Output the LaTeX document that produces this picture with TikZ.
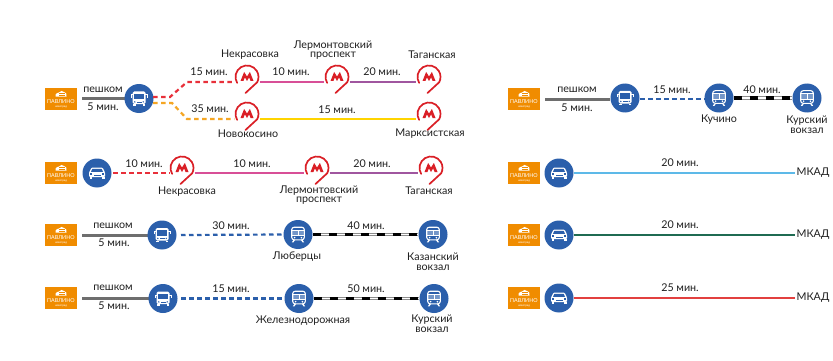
\documentclass[tikz,border=0pt]{standalone}
\usepackage{fontspec}
\setmainfont{Lato}
\definecolor{hubblue}{HTML}{2B5FAB}
\definecolor{logoor}{HTML}{F08C00}
\definecolor{mred}{HTML}{DA1F26}
\definecolor{dashred}{HTML}{E8303A}
\definecolor{dashor}{HTML}{F5A623}
\definecolor{pinkl}{HTML}{D84F97}
\definecolor{purpl}{HTML}{A0569F}
\definecolor{yell}{HTML}{FFD400}
\definecolor{greyl}{HTML}{6E6E6E}
\definecolor{skyl}{HTML}{5DB9E8}
\definecolor{greenl}{HTML}{1F6B52}
\definecolor{redl}{HTML}{E2403F}
\tikzset{
  x=1pt,y=-1pt,
  txt/.style={inner sep=0pt,font=\fontsize{10.7}{9.6}\selectfont,align=center,text=black!88},
  hub/.style={circle,fill=hubblue,minimum size=29pt,inner sep=0pt},
  logobox/.style={rectangle,fill=logoor,minimum width=32pt,minimum height=22pt,inner sep=0pt},
  logotxt/.style={inner sep=0pt,text=white,font=\fontsize{5.4}{5}\selectfont},
  logosub/.style={inner sep=0pt,text=white,font=\fontsize{2.8}{3}\selectfont},
  pinbox/.style={rectangle,minimum width=25pt,minimum height=1pt,inner sep=0pt},
  walk/.style={draw=greyl,line width=3pt},
  dashr/.style={draw=dashred,line width=2.2pt,dash pattern=on 4.5pt off 3.5pt},
  dasho/.style={draw=dashor,line width=2.2pt,dash pattern=on 4.5pt off 3.5pt},
  dashb/.style={draw=hubblue,line width=2.2pt,dash pattern=on 4.5pt off 3.5pt},
  solidl/.style={line width=2.9pt},
  ic/.style={fill=white,draw=none},
  ih/.style={fill=hubblue,draw=none}
}
\newcommand{\logoat}[3]{%
  \node[logobox] (#1) at (#2,#3) {};
  \node[logotxt] (#1t) at ([yshift=-3pt]#1.center) {ПАВЛИНО};
  \node[logosub] (#1s) at ([yshift=-7.6pt]#1.center) {новоград};
  \begin{scope}[shift={(#1.center)}]
    \fill[white] (-5.5,-2.5) -- (-5.5,-4.5) .. controls (-5,-6) and (-3,-6) .. (-2,-6.5) .. controls (-1,-8.5) and (2,-8.5) .. (3,-7) .. controls (5,-7) and (6,-5) .. (5.5,-2.5) -- cycle;
    \draw[logoor,line width=.4pt] (-2,-5.5) -- (4,-5.5) (-2,-4) -- (4,-4);
  \end{scope}}
\newcommand{\carat}[3]{%
  \node[hub] (#1) at (#2,#3) {};
  \begin{scope}[shift={(#1.center)}]
    \fill[ic,rounded corners=1pt] (-8,4) -- (-8,-.5) -- (-5.5,-5.5) -- (5.5,-5.5) -- (8,-.5) -- (8,4) -- cycle;
    \fill[ih] (-4.6,-4.2) -- (4.6,-4.2) -- (6,-1.2) -- (-6,-1.2) -- cycle;
    \fill[ih] (-3.5,1.6) rectangle (3.5,2.5);
    \fill[ih] (-7,.3) rectangle (-4.6,1.5);
    \fill[ih] (7,.3) rectangle (4.6,1.5);
    \fill[ic] (-7.5,4) rectangle (-5,6);
    \fill[ic] (7.5,4) rectangle (5,6);
  \end{scope}}
\newcommand{\busat}[3]{%
  \node[hub] (#1) at (#2,#3) {};
  \begin{scope}[shift={(#1.center)}]
    \fill[ic,rounded corners=1.5pt] (-6.5,-7) rectangle (6.5,5.5);
    \fill[ic] (-8.3,-4) rectangle (8.3,-3);
    \fill[ic] (-8.3,-4) rectangle (-7.5,-.8);
    \fill[ic] (8.3,-4) rectangle (7.5,-.8);
    \fill[ih] (-5,-4.8) rectangle (-.4,.6);
    \fill[ih] (.4,-4.8) rectangle (5,.6);
    \fill[ih] (-2.5,3) rectangle (2.5,3.8);
    \fill[ih] (-4.2,3.4) circle (.8);
    \fill[ih] (4.2,3.4) circle (.8);
    \fill[ic] (-6,5.5) rectangle (-3.5,7.3);
    \fill[ic] (6,5.5) rectangle (3.5,7.3);
  \end{scope}}
\newcommand{\trainat}[3]{%
  \node[hub] (#1) at (#2,#3) {};
  \begin{scope}[shift={(#1.center)}]
    \draw[white,line width=1.1pt,rounded corners=2.5pt] (-6.3,-7.3) rectangle (6.3,5.3);
    \draw[white,line width=1pt] (-6.3,-4.3) -- (6.3,-4.3) (-6.3,1.2) -- (6.3,1.2) (0,-4.3) -- (0,1.2);
    \fill[white,opacity=.35] (-6,-4) rectangle (6,1);
    \fill[ic] (-3.4,3.2) circle (.9);
    \fill[ic] (3.4,3.2) circle (.9);
    \fill[ic] (-4.6,5.5) -- (-3,5.5) -- (-4.5,7.8) -- (-6.2,7.8) -- cycle;
    \fill[ic] (4.6,5.5) -- (3,5.5) -- (4.5,7.8) -- (6.2,7.8) -- cycle;
  \end{scope}}
\newcommand{\pinat}[3]{% node sits on the line level; ring is 5 above it
  \node[pinbox] (#1) at (#2,#3) {};
  \begin{scope}[shift={(#1.center)},yshift=5pt]
    \draw[mred,line width=1.7pt,line cap=round] (-9.86,5.9) arc[start angle=149,end angle=387,radius=11.5] -- (-1.5,16);
    \fill[mred] (-6.5,4) -- (-2.9,-5) -- (0,-.6) -- (2.9,-5) -- (6.5,4) -- (3.6,4) -- (2.1,.4) -- (0,4) -- (-2.1,.4) -- (-3.6,4) -- cycle;
  \end{scope}}
\newcommand{\rail}[2]{%
  \draw[line width=3pt,draw=black!45] (#1) -- (#2);
  \draw[line width=3pt,draw=black,dash pattern=on 8pt off 8pt] (#1) -- (#2);
  \draw[line width=1.6pt,draw=white,dash pattern=on 8pt off 8pt,dash phase=8pt] (#1) -- (#2);}
\begin{document}
\begin{tikzpicture}
\useasboundingbox (0,0) rectangle (833,361);
\fill[white] (0,0) rectangle (833,361);
% ---- row 1
\logoat{la}{61}{99}
\coordinate (wa) at (82,98.5);
\draw[walk] (wa) -- (139,98.5);
\busat{ba}{139}{98.5}
\pinat{pa}{247}{82}
\pinat{pb}{337}{82}
\pinat{pc}{429}{82}
\pinat{pd}{247}{119}
\pinat{pe}{429}{119}
\coordinate (ra) at (170,97);
\coordinate (rb) at (187,82);
\coordinate (oa) at (172,103);
\coordinate (ob) at (187,119);
\coordinate (ba1) at (153,97);
\coordinate (ba2) at (153,103);
\draw[dashr] (ba1) -- (ra) -- (rb) -- (pa.west);
\draw[dasho] (ba2) -- (oa) -- (ob) -- (pd.west);
\draw[solidl,draw=pinkl] (pa.east) -- (pb.west);
\draw[solidl,draw=purpl] (pb.east) -- (pc.west);
\draw[solidl,draw=yell] (pd.east) -- (pe.west);
\node[txt] (t1) at (103,90) {пешком};
\node[txt] (t2) at (103,107) {5 мин.};
\node[txt] (t3) at (209,72) {15 мин.};
\node[txt] (t4) at (210,109) {35 мин.};
\node[txt] (t5) at (291,72) {10 мин.};
\node[txt] (t6) at (382,72) {20 мин.};
\node[txt] (t7) at (337,110) {15 мин.};
\node[txt] (t8) at (250,55) {Некрасовка};
\node[txt] (t9) at (333,50) {Лермонтовский\\проспект};
\node[txt] (t10) at (432,55) {Таганская};
\node[txt] (t11) at (248,134) {Новокосино};
\node[txt] (t12) at (430,134) {Марксистская};
% ---- row 2
\logoat{lb}{61}{173}
\carat{cb}{97}{173}
\pinat{pf}{182}{173}
\pinat{pg}{317}{173}
\pinat{ph}{431}{173}
\draw[dashr] (cb) ++(16,0) coordinate (cb1) (cb1) -- (pf.west);
\draw[solidl,draw=pinkl] (pf.east) -- (pg.west);
\draw[solidl,draw=purpl] (pg.east) -- (ph.west);
\node[txt] (t13) at (144,164) {10 мин.};
\node[txt] (t14) at (252,164) {10 мин.};
\node[txt] (t15) at (372,164) {20 мин.};
\node[txt] (t16) at (187,192) {Некрасовка};
\node[txt] (t17) at (319,195) {Лермонтовский\\проспект};
\node[txt] (t18) at (429,191) {Таганская};
% ---- row 3
\logoat{lc}{61}{235}
\coordinate (wc) at (82,235);
\draw[walk] (wc) -- (162,235);
\busat{bc}{162}{235}
\trainat{tc}{298}{234.5}
\trainat{td}{433}{234.5}
\draw[dashb] (bc) ++(19,0) coordinate (bc1) (bc1) -- (tc.west);
\rail{tc.east}{td.west}
\node[txt] (t19) at (113,226) {пешком};
\node[txt] (t20) at (114,243) {5 мин.};
\node[txt] (t21) at (231,226) {30 мин.};
\node[txt] (t22) at (366,226) {40 мин.};
\node[txt] (t23) at (297,257) {Люберцы};
\node[txt] (t24) at (433,261.5) {Казанский\\вокзал};
% ---- row 4
\logoat{ld}{61}{298}
\coordinate (we) at (82,298.5);
\draw[walk] (we) -- (163,298.5);
\busat{be}{163}{298.5}
\trainat{te}{299}{298.5}
\trainat{tf}{434}{298.5}
\draw[dashb] (be) ++(18,0) coordinate (be1) (be1) -- (te.west);
\rail{te.east}{tf.west}
\node[txt] (t25) at (113,288) {пешком};
\node[txt] (t26) at (114,306) {5 мин.};
\node[txt] (t27) at (231,289) {15 мин.};
\node[txt] (t28) at (366,289) {50 мин.};
\node[txt] (t29) at (303,321) {Железнодорожная};
\node[txt] (t30) at (432,323.5) {Курский\\вокзал};
% ---- right row 1
\logoat{le}{524}{99}
\busat{bg}{625}{98}
\trainat{th}{719}{98}
\trainat{ti}{807}{98}
\coordinate (wg) at (545,99);
\draw[walk] (wg) -- (bg.west |- wg);
\draw[dashb] (bg) ++(15,1) coordinate (bg1) (bg1) -- (th.west |- bg1);
\rail{th.east}{ti.west}
\node[txt] (t31) at (577,90) {пешком};
\node[txt] (t32) at (577,108) {5 мин.};
\node[txt] (t33) at (672,90) {15 мин.};
\node[txt] (t34) at (762,90) {40 мин.};
\node[txt] (t35) at (719,120) {Кучино};
\node[txt] (t36) at (807,124.5) {Курский\\вокзал};
% ---- right rows 2-4
\logoat{lf}{524}{173}
\carat{cf}{559}{173}
\node[txt] (m1) at (813,173) {МКАД};
\draw[solidl,draw=skyl] (cf.east) -- ([xshift=-1pt]m1.west);
\node[txt] (t37) at (680,163) {20 мин.};
\logoat{lg}{524}{235}
\carat{cg}{559}{235}
\node[txt] (m2) at (813,235) {МКАД};
\draw[solidl,draw=greenl] (cg.east) -- ([xshift=-1pt]m2.west);
\node[txt] (t38) at (680,225) {20 мин.};
\logoat{lh}{524}{298}
\carat{ch}{559}{298}
\node[txt] (m3) at (813,298) {МКАД};
\draw[solidl,draw=redl] (ch.east) -- ([xshift=-1pt]m3.west);
\node[txt] (t39) at (680,288) {25 мин.};
\end{tikzpicture}
\end{document}
